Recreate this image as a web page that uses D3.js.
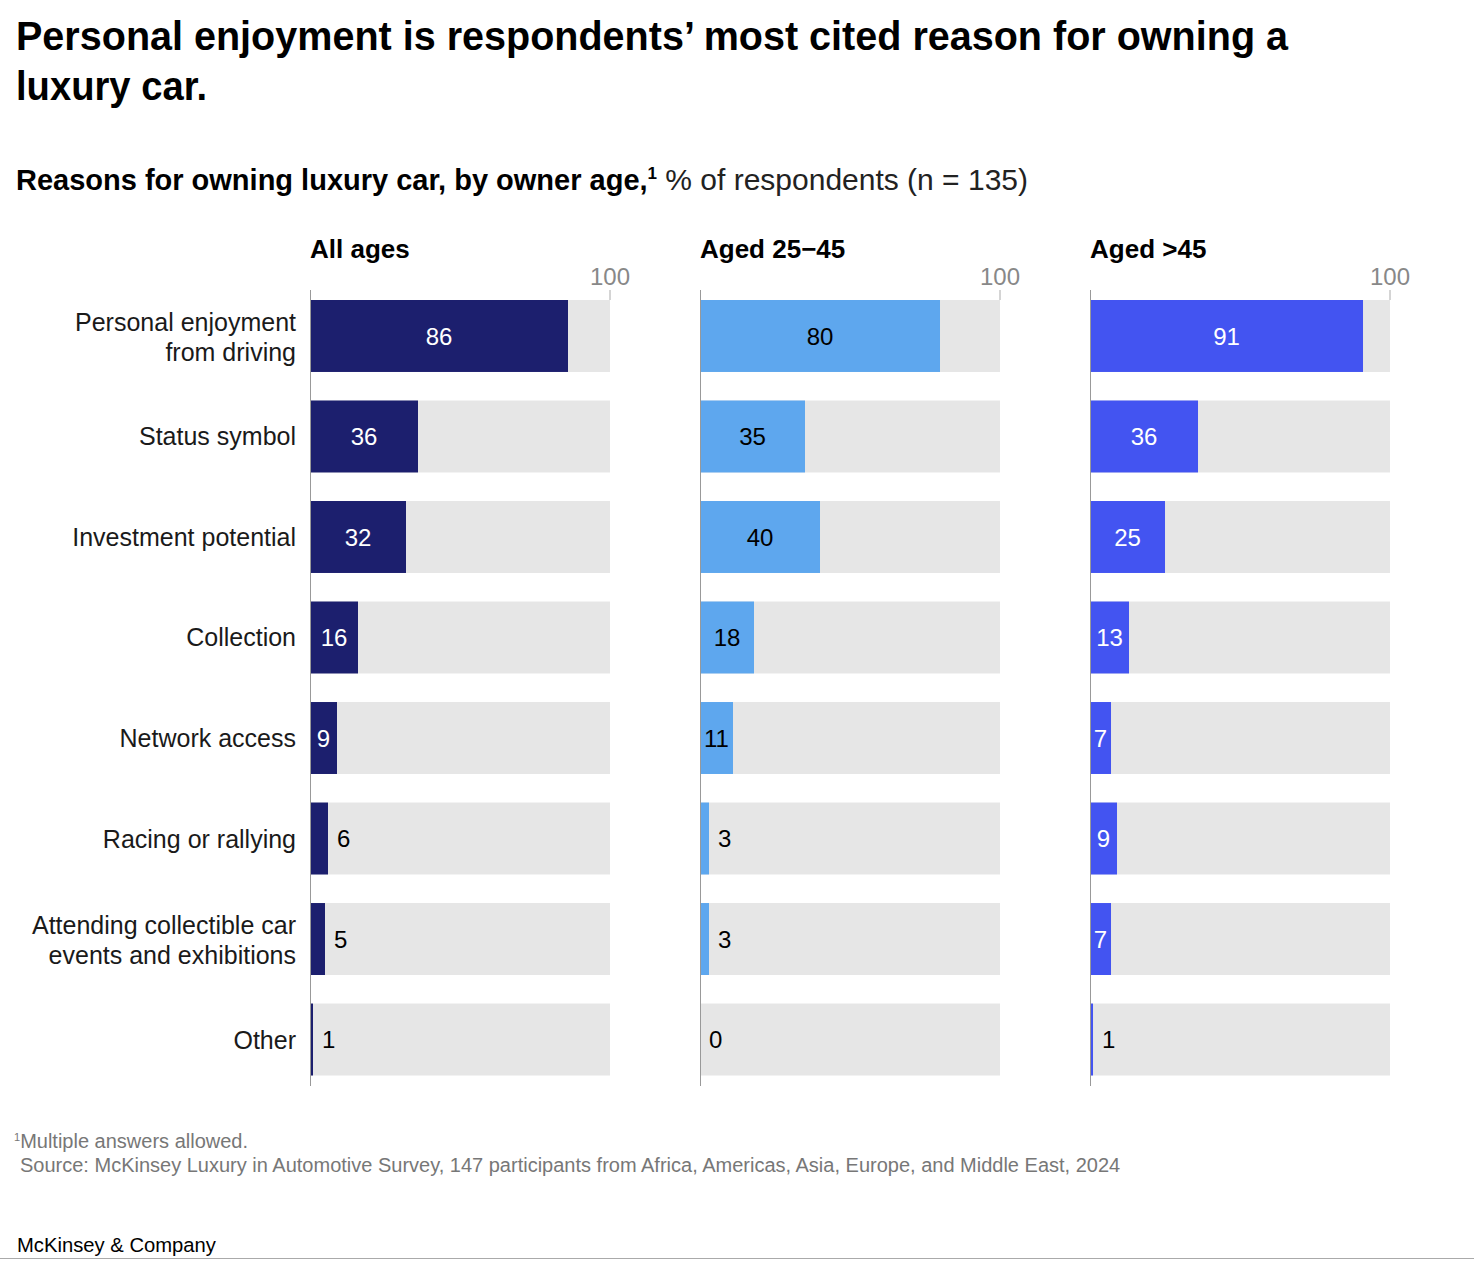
<!DOCTYPE html>
<html>
<head>
<meta charset="utf-8">
<script src="https://cdn.jsdelivr.net/npm/d3@7"></script>
<style>
  body { margin: 0; background: #fff; }
  text { font-family: "Liberation Sans", Arial, sans-serif; }
</style>
</head>
<body>
<svg id="chart" width="1474" height="1272"></svg>
<script>
// categories, top to bottom ("\n" splits the label into two lines)
var categories = [
  "Personal enjoyment\nfrom driving",
  "Status symbol",
  "Investment potential",
  "Collection",
  "Network access",
  "Racing or rallying",
  "Attending collectible car\nevents and exhibitions",
  "Other"
]
var panels = ["All ages", "Aged 25\u221245", "Aged >45"]

// % of respondents
var allAges    = [86, 36, 32, 16, 9, 6, 5, 1]
var aged25to45 = [80, 35, 40, 18, 11, 3, 3, 0]
var agedOver45 = [91, 36, 25, 13, 7, 9, 7, 1]

var series = [allAges, aged25to45, agedOver45]
var barColors = ["#1c1f6e", "#5ea7ee", "#4354f1"]
var insideText = ["#fff", "#000", "#fff"]

var svg = d3.select("#chart")

// fit a text line to a width when the fallback font runs wider than the original
function fit(sel, w){
  sel.each(function(){
    if (this.getComputedTextLength() > w) {
      d3.select(this).attr("textLength", w).attr("lengthAdjust", "spacingAndGlyphs")
    }
  })
}

// title
var title = ["Personal enjoyment is respondents\u2019 most cited reason for owning a", "luxury car."]
svg.selectAll("text.title").data(title).enter().append("text")
  .attr("class", "title")
  .attr("x", 16).attr("y", function(d, i){ return 50 + i * 50 })
  .style("font-size", "40px").style("font-weight", "bold").style("fill", "#000")
  .text(function(d){ return d })
  .each(function(d, i){ fit(d3.select(this), i == 0 ? 1272 : 191) })

// subtitle
var sub = svg.append("text").attr("x", 16).attr("y", 190).style("font-size", "29px").style("fill", "#000")
sub.append("tspan").style("font-weight", "bold").text("Reasons for owning luxury car, by owner age,")
sub.append("tspan").style("font-weight", "bold").style("font-size", "17px").attr("dy", -11).text("1")
sub.append("tspan").attr("dy", 11).style("font-size", "30px").style("fill", "#222").text(" % of respondents (n = 135)")
fit(sub, 1012)

var x = d3.scaleLinear().domain([0, 100]).range([0, 300])
var y = d3.scaleBand().domain(categories).range([300, 1075.5]).paddingInner(0.284)
var px = d3.scaleBand().domain(panels).range([310, 1390]).paddingInner(0.2308)

// category labels
var lab = svg.selectAll("text.cat").data(categories).enter().append("text")
  .attr("class", "cat")
  .attr("text-anchor", "end")
  .style("font-size", "25px").style("fill", "#1a1a1a")
lab.each(function(d){
  var lines = d.split("\n")
  var cy = y(d) + y.bandwidth() / 2
  var t = d3.select(this)
  lines.forEach(function(l, i){
    t.append("tspan")
      .attr("x", 296)
      .attr("y", cy + 9 + (lines.length > 1 ? 1 : 0) + (i - (lines.length - 1) / 2) * 30)
      .text(l)
  })
})

panels.forEach(function(p, k){
  var g = svg.append("g").attr("transform", "translate(" + px(p) + ",0)")
  var vals = series[k]

  g.append("text").attr("x", 0).attr("y", 258)
    .style("font-size", "26px").style("font-weight", "bold").text(p)

  // 100 reference tick
  g.append("line").attr("x1", x(100)).attr("x2", x(100)).attr("y1", 290).attr("y2", 300)
    .style("stroke", "#aaa").style("stroke-width", 1)
  g.append("text").attr("x", x(100)).attr("y", 285).attr("text-anchor", "middle")
    .style("font-size", "24px").style("fill", "#888").text("100")

  // background tracks
  g.selectAll("rect.bg").data(categories).enter().append("rect")
    .attr("class", "bg")
    .attr("x", x(0)).attr("y", function(d){ return y(d) })
    .attr("width", x(100) - x(0)).attr("height", y.bandwidth())
    .style("fill", "#e6e6e6")

  // value bars
  g.selectAll("rect.bar").data(vals).enter().append("rect")
    .attr("class", "bar")
    .attr("x", x(0)).attr("y", function(d, i){ return y(categories[i]) })
    .attr("width", function(d){ return x(d) - x(0) }).attr("height", y.bandwidth())
    .style("fill", barColors[k])

  // value labels: centered inside when the bar is wide enough, otherwise after it
  g.selectAll("text.val").data(vals).enter().append("text")
    .attr("class", "val")
    .attr("x", function(d){ return d >= 7 ? x(d) / 2 : x(d) + 9 })
    .attr("y", function(d, i){ return y(categories[i]) + y.bandwidth() / 2 })
    .attr("dy", "0.36em")
    .attr("text-anchor", function(d){ return d >= 7 ? "middle" : "start" })
    .style("font-size", "24px")
    .style("fill", function(d){ return d >= 7 ? insideText[k] : "#000" })
    .text(function(d){ return d })

  // axis line
  g.append("line").attr("x1", 0.5).attr("x2", 0.5).attr("y1", 290).attr("y2", 1086)
    .style("stroke", "#999").style("stroke-width", 1)
})

// footnotes
var fn = svg.append("text").attr("x", 14).attr("y", 1148).style("font-size", "20px").style("fill", "#777")
fn.append("tspan").style("font-size", "11px").attr("dy", -7).text("1")
fn.append("tspan").attr("dy", 7).text("Multiple answers allowed.")
svg.append("text").attr("x", 20).attr("y", 1172).style("font-size", "20px").style("fill", "#777")
  .text("Source: McKinsey Luxury in Automotive Survey, 147 participants from Africa, Americas, Asia, Europe, and Middle East, 2024")
  .call(fit, 1106)

svg.append("text").attr("x", 17).attr("y", 1252).style("font-size", "20.5px").style("fill", "#000")
  .text("McKinsey & Company").call(fit, 199)
svg.append("line").attr("x1", 0).attr("x2", 1474).attr("y1", 1258.5).attr("y2", 1258.5)
  .style("stroke", "#aaa").style("stroke-width", 1)
</script>
</body>
</html>
